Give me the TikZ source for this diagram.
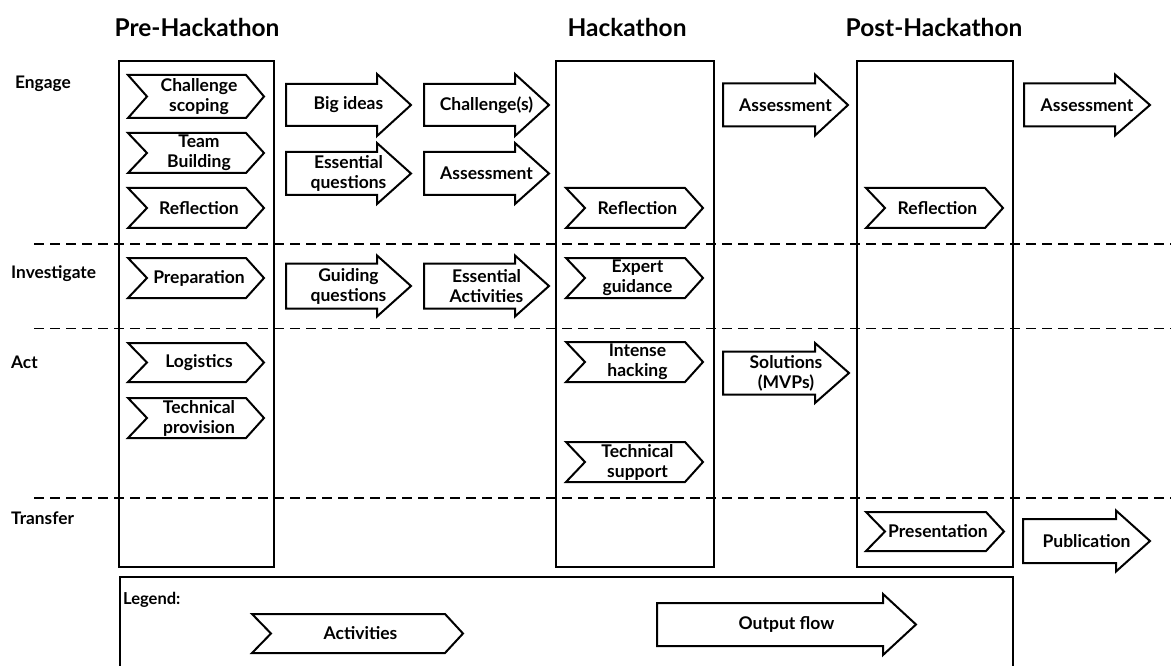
\documentclass[tikz,border=0pt]{standalone}
\usepackage{fontspec}
\setmainfont{Lato}
\newcommand{\chevbox}[6]{% name, x1, x2, ytop, ybot, text
  \path[chevline] (#2,#4) -- ({#3-18},#4) -- (#3,{(#4+#5)/2}) -- ({#3-18},#5) -- (#2,#5) -- ({#2+19},{(#4+#5)/2}) -- cycle;
  \node[lbl] (#1) at ({(#2+#3)/2+3},{(#4+#5)/2}) {#6};
}
\newcommand{\flowarrow}[8]{% name, x1, xbase, xtip, cy, half body, half head, text
  \path[flowline] (#2,{#5-#6}) -- (#3,{#5-#6}) -- (#3,{#5-#7}) -- (#4,#5) -- (#3,{#5+#7}) -- (#3,{#5+#6}) -- (#2,{#5+#6}) -- cycle;
  \node[lbl] (#1) at ({(#2+#4)/2},#5) {#8};
}
\begin{document}
\begin{tikzpicture}[
  x=1pt, y=-1pt,
  frame/.style={draw, line width=2pt},
  chevline/.style={draw, line width=2pt, line join=miter, fill=white},
  flowline/.style={draw, line width=2pt, line join=miter, fill=white},
  lbl/.style={font=\bfseries\fontsize{17.5}{20}\selectfont, align=center, inner sep=0pt},
  ttl/.style={font=\bfseries\fontsize{24.5}{28}\selectfont, inner sep=0pt},
  rowlbl/.style={font=\bfseries\fontsize{17.3}{20}\selectfont, anchor=west, inner sep=0pt},
  sep/.style={draw, line width=1.2pt, dash pattern=on 10pt off 6pt},
]
\useasboundingbox (0,0) rectangle (1171,666);

% titles
\node[ttl] (tpre) at (197,27) {Pre-Hackathon};
\node[ttl] (thack) at (627,27) {Hackathon};
\node[ttl] (tpost) at (934,27) {Post-Hackathon};

% row labels
\node[rowlbl] (rengage) at (15,84) {Engage};
\node[rowlbl] (rinv) at (11,274) {Investigate};
\node[rowlbl] (ract) at (11,362) {Act};
\node[rowlbl] (rtrans) at (11,518) {Transfer};

% separators
\coordinate (s1a) at (34,244); \coordinate (s1b) at (1171,244);
\coordinate (s2a) at (34,328.5); \coordinate (s2b) at (1171,328.5);
\coordinate (s3a) at (34,498); \coordinate (s3b) at (1171,498);
\path[sep] (s1a) -- (s1b);
\path[sep] (s2a) -- (s2b);
\path[sep] (s3a) -- (s3b);

% phase boxes
\draw[frame] (118.5,61.5) rectangle (273.5,566.5);
\draw[frame] (555.5,61.5) rectangle (713.5,566.5);
\draw[frame] (857,61.5) rectangle (1013,566.5);

% pre-hackathon activities
\chevbox{c1}{128}{264}{75}{118}{Challenge\\scoping}
\chevbox{c2}{128}{264}{133}{173}{Team\\Building}
\chevbox{c3}{128}{264}{188}{228}{Reflection}
\chevbox{c4}{128}{264}{258}{298}{Preparation}
\chevbox{c5}{128}{264}{343}{382}{Logistics}
\chevbox{c6}{128}{264}{398}{438}{Technical\\provision}

% hackathon activities
\chevbox{h1}{566}{703}{188}{228}{Reflection}
\chevbox{h2}{566}{703}{258}{298}{Expert\\guidance}
\chevbox{h3}{566}{703}{342}{382}{Intense\\hacking}
\chevbox{h4}{566}{703}{442}{482}{Technical\\support}

% post-hackathon activities
\chevbox{p1}{866}{1003}{188}{228}{Reflection}
\chevbox{p2}{866}{1004}{512}{551}{Presentation}

% output flows
\flowarrow{a1}{286}{377}{411}{105}{21}{31}{Big ideas}
\flowarrow{a2}{424}{515}{549}{105}{21}{31}{Challenge(s)}
\flowarrow{a3}{286}{377}{411}{173.5}{21.5}{30.5}{Essential\\questions}
\flowarrow{a4}{424}{515}{549}{173.5}{21.5}{30.5}{Assessment}
\flowarrow{a5}{286}{377}{411}{286}{22.5}{30.5}{Guiding\\questions}
\flowarrow{a6}{424}{515}{549}{286}{22.5}{30.5}{Essential\\Activities}
\flowarrow{a7}{723}{815}{848}{105}{21.5}{30.5}{Assessment}
\flowarrow{a8}{723}{815}{849}{373}{21.5}{30}{Solutions\\(MVPs)}
\flowarrow{a9}{1024}{1115}{1150}{105}{21.5}{30.5}{Assessment}
\flowarrow{a10}{1023}{1116}{1150}{541}{22}{30.5}{Publication}

% legend
\draw[frame] (119.5,668) -- (119.5,577) -- (1013,577) -- (1013,668);
\node[rowlbl, font=\bfseries\fontsize{16.5}{19}\selectfont] (leg) at (123,600) {Legend:};
\chevbox{lact}{252}{463}{614}{653}{Activities}
\flowarrow{lout}{657}{883}{916}{624.5}{21.5}{30.5}{Output flow}
\end{tikzpicture}
\end{document}
